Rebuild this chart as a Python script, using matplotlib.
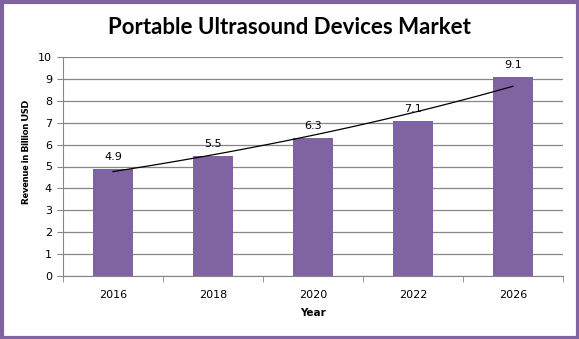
import numpy as np
import matplotlib
matplotlib.use("Agg")
import matplotlib.pyplot as plt
from matplotlib.patches import Rectangle

years = ["2016", "2018", "2020", "2022", "2026"]
revenue = [4.9, 5.5, 6.3, 7.1, 9.1]
yticks = list(range(0, 11))

PURPLE = "#8064A2"
GRID = "#868686"

fig = plt.figure(figsize=(5.79, 3.39), dpi=100)
ax = fig.add_axes([63/579, 1 - 276/339, 500/579, 219/339])

x = np.arange(1, len(years) + 1)
ax.bar(x, revenue, width=0.4, color=PURPLE, zorder=2)
for xi, v in zip(x, revenue):
    ax.text(xi, v + 0.3, f"{v}", ha="center", va="bottom", fontsize=8, color="black")

# exponential trendline
b, a = np.polyfit(x, np.log(revenue), 1)
xs = np.linspace(1, 5, 100)
ax.plot(xs, np.exp(a + b * xs), color="black", lw=0.9, zorder=3)

ax.set_xlim(0.5, 5.5)
ax.set_ylim(0, 10)
ax.set_yticks(yticks)
ax.set_xticks(x)
ax.set_xticklabels(years)
ax.set_xticks(np.arange(0.5, 6.0, 1.0), minor=True)
ax.tick_params(axis="x", which="major", length=0, pad=10, labelsize=8)
ax.tick_params(axis="x", which="minor", length=4, color=GRID)
ax.tick_params(axis="y", length=4, color=GRID, labelsize=8, pad=4)
ax.yaxis.grid(True, color=GRID, lw=0.9, zorder=0)
ax.set_axisbelow(True)
for s in ["top", "right"]:
    ax.spines[s].set_visible(False)
ax.spines["left"].set_color(GRID)
ax.spines["bottom"].set_color(GRID)

ax.set_xlabel("Year", fontsize=7.5, fontweight="bold", labelpad=6)
ax.set_ylabel("Revenue in Billion USD", fontsize=7.2, fontweight="heavy", family="Lato")
ax.yaxis.set_label_coords(-0.064, 0.566)

fig.text(0.5, 1 - 27/339, "Portable Ultrasound Devices Market", ha="center", va="center",
         fontsize=16, fontweight="bold", family="Lato")

fig.patches.append(Rectangle((1.5/579, 1.5/339), 1 - 3/579, 1 - 3/339, transform=fig.transFigure,
                             fill=False, edgecolor=PURPLE, lw=3))

fig.savefig("out.png", dpi=100)
